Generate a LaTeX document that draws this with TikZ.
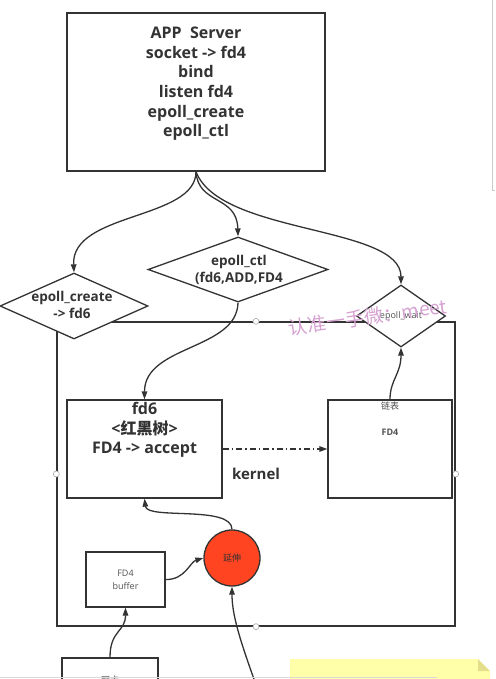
\documentclass[tikz,border=0pt]{standalone}
\usepackage{fontspec}
\setmainfont{Open Sans}
\newfontfamily\cjk{Noto Sans CJK SC}
\usepackage{tikz}
\usetikzlibrary{arrows.meta}
\usetikzlibrary{shapes.geometric}
\usetikzlibrary{positioning}

\definecolor{inkgray}{HTML}{333333}
\definecolor{growred}{HTML}{FF4422}
\definecolor{notepink}{HTML}{D6A2D2}
\definecolor{noteyellow}{HTML}{FFFFAA}
\definecolor{notefold}{HTML}{E4DE8C}

\begin{document}
\begin{tikzpicture}[x=1pt, y=-1pt,
    ink/.style={draw=inkgray, line width=1.3pt},
    arr/.style={ink, -{Triangle[length=8pt, width=5.5pt]}},
    dashdot/.style={dash pattern=on 6pt off 3pt on 1.5pt off 3pt},
    box/.style={ink, fill=white, rectangle, inner sep=0pt},
    choice/.style={ink, fill=white, diamond, inner sep=0pt},
    handle/.style={circle, draw=gray!70, fill=white, line width=0.6pt, minimum size=6pt, inner sep=0pt},
    bigtxt/.style={font=\fontsize{16}{19.6}\selectfont\bfseries, text=inkgray, align=center, inner sep=0pt},
    midtxt/.style={font=\fontsize{13.5}{17.5}\selectfont\bfseries, text=inkgray, align=center, inner sep=0pt},
    smalltxt/.style={font=\fontsize{9}{13}\selectfont, text=inkgray!85, align=center, inner sep=0pt},
    wmtext/.style={font=\fontsize{19}{19}\selectfont, text=notepink, inner sep=0pt, rotate=8}]
    \useasboundingbox (0, 0) rectangle (495, 679);
    % kernel
    \node[box, minimum width=398pt, minimum height=304pt] (kernel) at (256, 474) {};
    \node[font=\fontsize{15}{15}\selectfont\bfseries, text=inkgray, inner sep=0pt] (kernellbl) at (kernel.center) {kernel};
    \foreach \side in {north, south, east, west}
        \node[handle] (h-\side) at (kernel.\side) {};

    % user space
    \node[box, minimum width=258pt, minimum height=158pt] (app) at (196, 92) {};
    \node[bigtxt, anchor=north] (apptxt) at (196, 27) {APP\ \ Server\\socket -> fd4\\bind\\listen fd4\\epoll\_create\\epoll\_ctl};
    \node[choice, minimum width=148pt, minimum height=66pt] (ecreate) at (74, 306) {};
    \node[midtxt] (ecreatetxt) at (72, 305) {epoll\_create\\-> fd6};
    \node[choice, minimum width=180pt, minimum height=65pt] (ectl) at (238, 269.5) {};
    \node[midtxt] (ectltxt) at (239, 270) {epoll\_ctl\\(fd6,ADD,FD4};
    \node[choice, minimum width=89pt, minimum height=62pt] (ewait) at (401, 316) {};
    \node[smalltxt] (ewaittxt) at (401, 316) {epoll\_wait};

    % kernel boxes
    \node[box, minimum width=155pt, minimum height=98pt] (fd6) at (144.5, 449) {};
    \node[bigtxt, anchor=north] (fd6txt) at (144.5, 402) {fd6\\<{\cjk 红黑树}>\\FD4 -> accept};
    \node[box, minimum width=124pt, minimum height=98pt] (list) at (390, 449) {};
    \node[smalltxt] (listtxt) at (390, 406) {\cjk 链表};
    \node[smalltxt, font=\fontsize{9}{13}\selectfont\bfseries] (listfd) at (390, 432) {FD4};
    \node[box, minimum width=79pt, minimum height=55pt, smalltxt, draw=inkgray] (buf) at (125.5, 579.5) {FD4\\buffer};
    \node[ink, circle, fill=growred, minimum size=56pt, inner sep=0pt, font=\fontsize{9}{9}\selectfont\cjk, text=inkgray] (grow) at (232, 558) {延伸};
    \node[box, minimum width=96pt, minimum height=44pt, smalltxt, draw=inkgray] (nic) at (110, 680) {\cjk 网卡};
    \coordinate (wire) at (255, 682);

    % connectors
    \draw[arr] (app.south) .. controls (196, 220) and (71, 212) .. (ecreate.north);
    \draw[arr] (app.south) .. controls (198, 205) and (237, 195) .. (ectl.north);
    \draw[arr] (app.south) .. controls (220, 235) and (401, 225) .. (ewait.north);
    \draw[arr] (ectl.south) .. controls (237, 350) and (144.5, 345) .. (fd6.north);
    \draw[arr, dashdot] (fd6.east) -- (list.west);
    \draw[arr] (list.north) .. controls (390, 380) and (401, 374) .. (ewait.south);
    \draw[arr] (buf.east) .. controls (185, 580) and (190, 562) .. (grow.west);
    \draw[arr] (grow.north) .. controls (232, 505) and (147, 520) .. (fd6.south);
    \draw[arr] (wire) .. controls (240, 640) and (232, 615) .. (grow.south);
    \draw[arr] (nic.north) .. controls (110, 630) and (125.5, 632) .. (buf.south);

    % screen leftovers
    \node[wmtext] (wm) at (368, 317) {\cjk 认准一手微：meet};
    \fill[noteyellow] (290, 659) -- (478, 659) -- (490, 671) -- (490, 679) -- (290, 679) -- cycle;
    \fill[notefold] (478, 659) -- (490, 671) -- (478, 671) -- cycle;
    \draw[gray!30, line width=1pt] (0, 677) -- (437, 677);
    \draw[gray!40, line width=0.8pt] (492, 0) -- (492, 190) -- (495, 190);
\end{tikzpicture}
\end{document}
